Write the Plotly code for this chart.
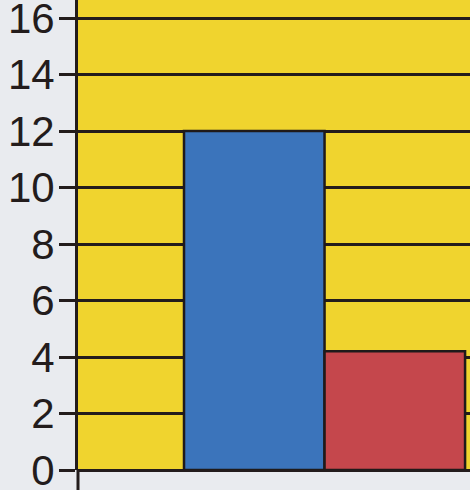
import plotly.graph_objects as go

categories = ["Group 1"]
blue_values = [12]
red_values = [4.2]
y_ticks = [0, 2, 4, 6, 8, 10, 12, 14, 16]

fig = go.Figure()

fig.add_trace(go.Bar(x=categories, y=blue_values, name='blue',
                     marker=dict(color='#3b74bb', line=dict(color='#1f1a1a', width=2.5))))
fig.add_trace(go.Bar(x=categories, y=red_values, name='red',
                     marker=dict(color='#c5474c', line=dict(color='#1f1a1a', width=2.5))))

fig.update_layout(
    width=470, height=490,
    margin=dict(l=78, r=0, t=0, b=20),
    paper_bgcolor='#e9ebef',
    plot_bgcolor='#f0d42e',
    barmode='group', bargap=0.43, bargroupgap=0,
    showlegend=False,
    font=dict(family='Liberation Sans', size=42, color='#231c1c'),
)
fig.update_xaxes(range=[-0.5, 0.295], showticklabels=False, showgrid=False,
                 zeroline=False, showline=False, ticks='', automargin=False)
fig.update_yaxes(range=[0, 16.64], tickvals=y_ticks, showgrid=True,
                 gridcolor='#231c1c', gridwidth=2.5, zeroline=True,
                 zerolinecolor='#231c1c', zerolinewidth=3,
                 showline=True, linecolor='#231c1c', linewidth=3,
                 ticks='outside', ticklen=16, tickwidth=3, tickcolor='#231c1c',
                 ticklabelstandoff=-4, ticklabeloverflow='allow', automargin=False)
# axis line runs on below the zero line
fig.add_shape(type='line', xref='paper', yref='paper', x0=0, x1=0, y0=-0.05, y1=0,
              line=dict(color='#231c1c', width=3))

# drop the page margin so the chart sits flush with the window
fig.write_html("out.html", config={'displayModeBar': False},
               post_script="document.body.style.margin='0';")
